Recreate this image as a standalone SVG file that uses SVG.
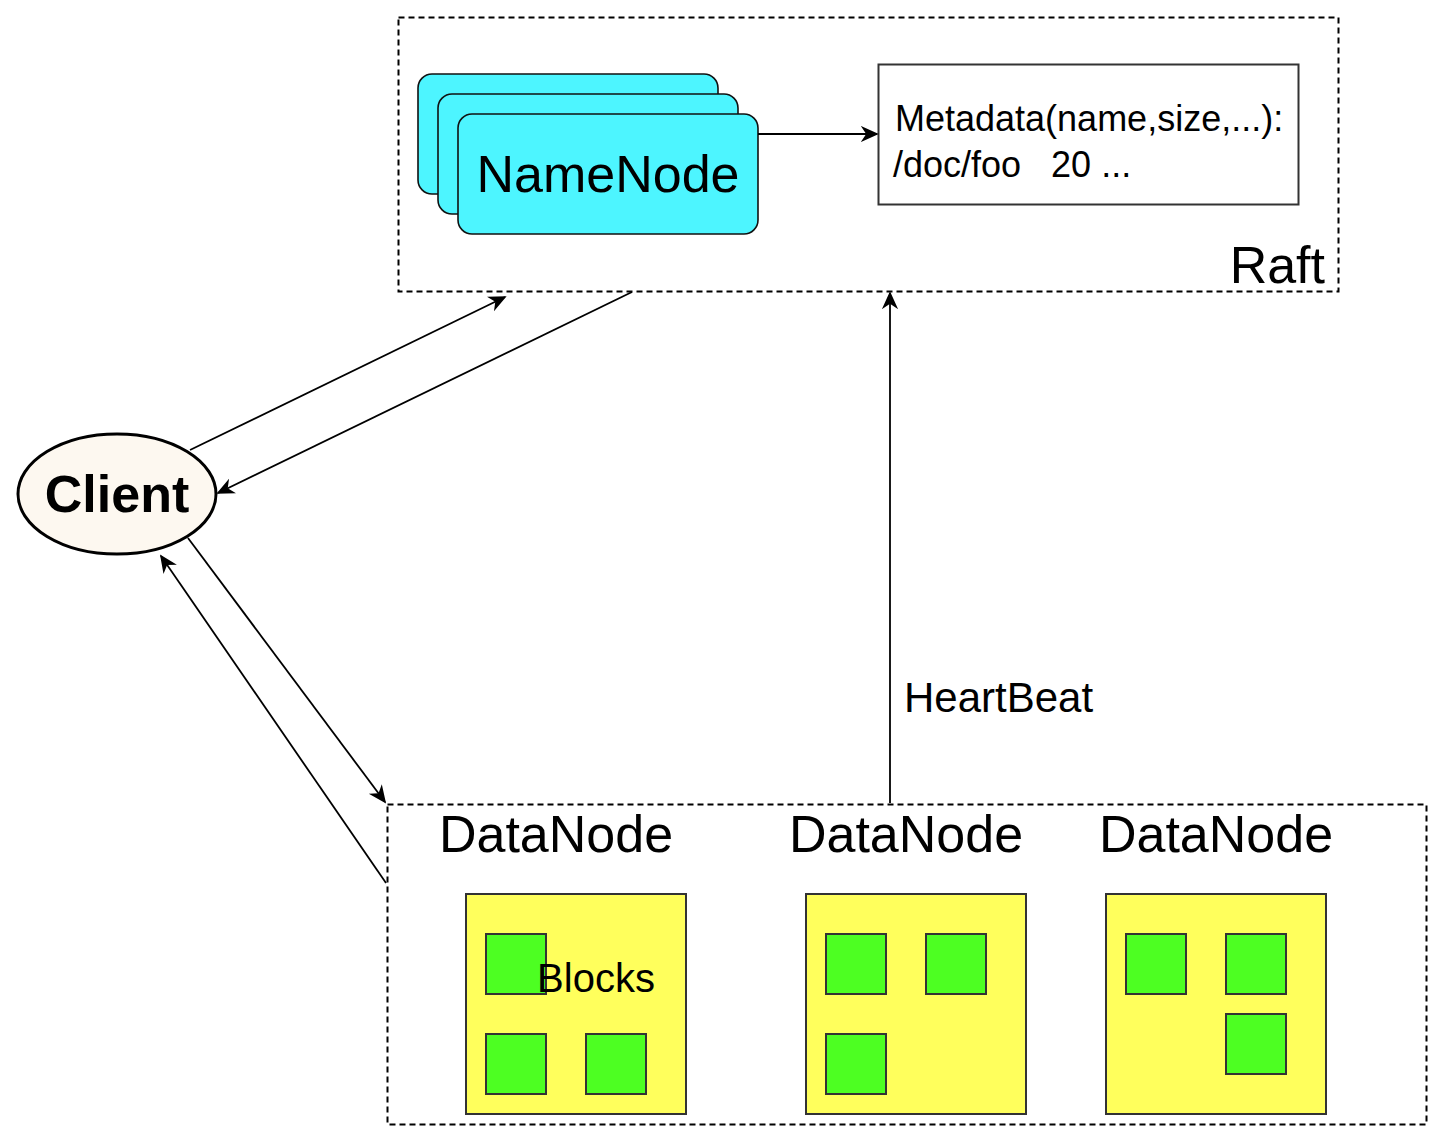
<svg xmlns="http://www.w3.org/2000/svg" width="1443" height="1142" viewBox="0 0 1443 1142">
<style>
text{font-family:"Liberation Sans",Arial,sans-serif;fill:#000}
.dash{fill:none;stroke:#000;stroke-width:2;stroke-dasharray:6 4}
.nn{fill:#4df5ff;stroke:#111;stroke-width:1.6}
.disk{fill:#ffff5c;stroke:#333;stroke-width:2}
.blk{fill:#4dff22;stroke:#333;stroke-width:2}
.edge{fill:none;stroke:#000;stroke-width:1.8;marker-end:url(#arr)}
</style>
<defs>
<marker id="arr" viewBox="0 0 10 10" refX="9" refY="5" markerWidth="18" markerHeight="18" markerUnits="userSpaceOnUse" orient="auto">
<path d="M0,0.5 L10,5 L0,9.5 L3,5 Z" fill="#000"/>
</marker>
</defs>
<rect width="1443" height="1142" fill="#fff"/>
<g id="raft">
<rect class="dash" x="398.5" y="17.5" width="940" height="274"/>
<text x="1325" y="283" font-size="52" text-anchor="end">Raft</text>
</g>
<g id="namenode">
<rect class="nn" x="418" y="74" width="300" height="120" rx="14"/>
<rect class="nn" x="438" y="94" width="300" height="120" rx="14"/>
<rect class="nn" x="458" y="114" width="300" height="120" rx="14"/>
<text x="608" y="192" font-size="52" text-anchor="middle">NameNode</text>
</g>
<g id="metadata">
<rect x="878.5" y="64.5" width="420" height="140" fill="#fff" stroke="#333" stroke-width="2"/>
<text x="895" y="131" font-size="36">Metadata(name,size,...):</text>
<text x="893" y="177" font-size="36" xml:space="preserve">/doc/foo   20 ...</text>
</g>
<g id="client">
<ellipse cx="117" cy="494" rx="99" ry="60" fill="#fdf8f0" stroke="#000" stroke-width="3"/>
<text x="117" y="512" font-size="52" font-weight="bold" text-anchor="middle">Client</text>
</g>
<g id="datanodes">
<rect class="dash" x="387.5" y="804.5" width="1039" height="320"/>
</g>
<g id="datanode1">
<text x="556" y="852" font-size="52" text-anchor="middle">DataNode</text>
<rect class="disk" x="466" y="894" width="220" height="220"/>
<rect class="blk" x="486" y="934" width="60" height="60"/>
<rect class="blk" x="486" y="1034" width="60" height="60"/>
<rect class="blk" x="586" y="1034" width="60" height="60"/>
<text x="596" y="992" font-size="40" text-anchor="middle">Blocks</text>
</g>
<g id="datanode2">
<text x="906" y="852" font-size="52" text-anchor="middle">DataNode</text>
<rect class="disk" x="806" y="894" width="220" height="220"/>
<rect class="blk" x="826" y="934" width="60" height="60"/>
<rect class="blk" x="926" y="934" width="60" height="60"/>
<rect class="blk" x="826" y="1034" width="60" height="60"/>
</g>
<g id="datanode3">
<text x="1216" y="852" font-size="52" text-anchor="middle">DataNode</text>
<rect class="disk" x="1106" y="894" width="220" height="220"/>
<rect class="blk" x="1126" y="934" width="60" height="60"/>
<rect class="blk" x="1226" y="934" width="60" height="60"/>
<rect class="blk" x="1226" y="1014" width="60" height="60"/>
</g>
<g id="connectors">
<line class="edge" x1="758" y1="134" x2="877" y2="134"/>
<line class="edge" x1="190" y1="450" x2="505" y2="297"/>
<line class="edge" x1="632" y1="292" x2="218" y2="493"/>
<line class="edge" x1="188" y1="538" x2="385" y2="802"/>
<line class="edge" x1="386" y1="883" x2="161" y2="556"/>
<line class="edge" x1="890" y1="803" x2="890" y2="293"/>
<text x="904" y="712" font-size="42">HeartBeat</text>
</g>
</svg>
